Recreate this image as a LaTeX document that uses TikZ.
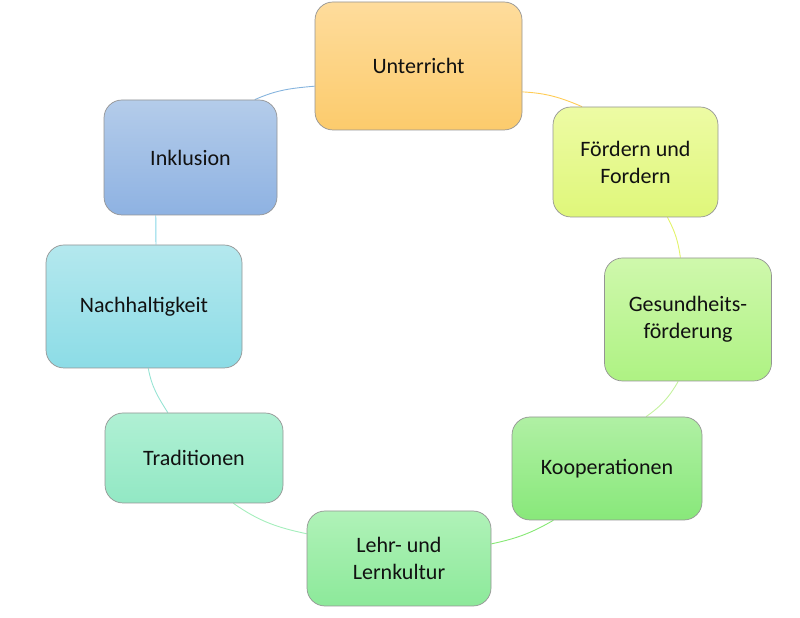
\documentclass[tikz,border=0pt]{standalone}
\usepackage{fontspec}
\setmainfont{Carlito}
\usetikzlibrary{backgrounds}
\definecolor{uT}{HTML}{FEDC9C}\definecolor{uB}{HTML}{FCCB6C}
\definecolor{fT}{HTML}{EDFBA4}\definecolor{fB}{HTML}{DFF77A}
\definecolor{gT}{HTML}{CFF8AC}\definecolor{gB}{HTML}{AEF283}
\definecolor{kT}{HTML}{B0F0A4}\definecolor{kB}{HTML}{88E87A}
\definecolor{lT}{HTML}{B0F2B8}\definecolor{lB}{HTML}{8CE99A}
\definecolor{tT}{HTML}{B0F0D4}\definecolor{tB}{HTML}{92E8C4}
\definecolor{nT}{HTML}{B4E8EE}\definecolor{nB}{HTML}{8CDCE6}
\definecolor{iT}{HTML}{B4CCEA}\definecolor{iB}{HTML}{8EB2E2}
\definecolor{cUF}{HTML}{FFCC55}
\definecolor{cFG}{HTML}{E2F36A}
\definecolor{cGK}{HTML}{C4F29E}
\definecolor{cKL}{HTML}{86E874}
\definecolor{cLT}{HTML}{A4EEBC}
\definecolor{cTN}{HTML}{98E4D4}
\definecolor{cNI}{HTML}{86D6E6}
\definecolor{cIU}{HTML}{86B4DE}
\definecolor{txt}{HTML}{111111}
\begin{document}
\begin{tikzpicture}[x=1pt,y=1pt,
  box/.style={rounded corners=18pt, draw=black!42, line width=0.7pt,
    align=center, inner sep=0pt, text=txt,
    font=\fontsize{22}{27}\selectfont},
  conn/.style={line width=0.9pt}]
\useasboundingbox (0,0) rectangle (800,618);
\node[box, minimum width=207pt, minimum height=128pt, top color=uT, bottom color=uB] (u) at (418.5,552) {Unterricht};
\node[box, minimum width=165pt, minimum height=110pt, top color=fT, bottom color=fB] (f) at (635.5,456) {Fördern und\\Fordern};
\node[box, minimum width=167pt, minimum height=123pt, top color=gT, bottom color=gB] (g) at (688,298.5) {Gesundheits-\\förderung};
\node[box, minimum width=190pt, minimum height=103pt, top color=kT, bottom color=kB] (k) at (607,149.5) {Kooperationen};
\node[box, minimum width=184pt, minimum height=95pt, top color=lT, bottom color=lB] (l) at (399,59.5) {Lehr- und\\Lernkultur};
\node[box, minimum width=178pt, minimum height=90pt, top color=tT, bottom color=tB] (t) at (194,160) {Traditionen};
\node[box, minimum width=196pt, minimum height=123pt, top color=nT, bottom color=nB] (n) at (144,311.5) {Nachhaltigkeit};
\node[box, minimum width=173pt, minimum height=115pt, top color=iT, bottom color=iB] (i) at (190.5,460.5) {Inklusion};
\begin{scope}[on background layer]
\draw[conn, cUF] (u.-14.6) to[out=-3, in=157] (f.134.2);
\draw[conn, cFG] (f.-60.2) to[out=-62, in=98] (g.97.4);
\draw[conn, cGK] (g.-99.2) to[out=-120, in=35] (k.53.6);
\draw[conn, cKL] (k.-136.9) to[out=-150, in=12] (l.9.6);
\draw[conn, cLT] (l.165.7) to[out=168, in=-35] (t.-49.1);
\draw[conn, cTN] (t.120) to[out=122, in=-80] (n.-86.3);
\draw[conn, cNI] (n.79.9) to[out=92, in=-88] (i.-121.7);
\draw[conn, cIU] (i.42.6) to[out=24, in=185] (u.-169.5);
\end{scope}
\end{tikzpicture}
\end{document}
